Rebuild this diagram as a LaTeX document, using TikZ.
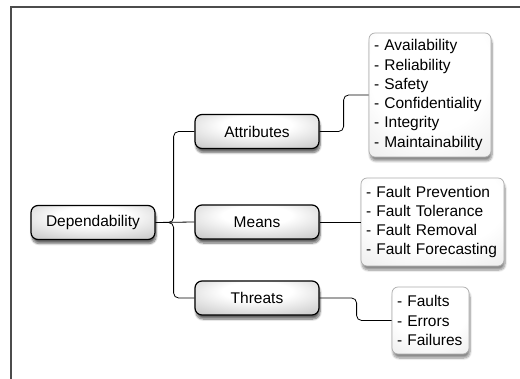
\documentclass[tikz,border=0pt]{standalone}
\usepackage{fontspec}
\setmainfont{Liberation Sans}
\usetikzlibrary{shadows.blur}
\pgfdeclareradialshading{boxshade}{\pgfpoint{0bp}{12bp}}{%
  color(0bp)=(white); color(14bp)=(white); color(40bp)=(gray!45); color(55bp)=(gray!65); color(80bp)=(gray!70)}
\pgfdeclareradialshading{listshade}{\pgfpoint{0bp}{15bp}}{%
  color(0bp)=(white); color(25bp)=(white); color(55bp)=(gray!25); color(80bp)=(gray!30)}
\begin{document}
\begin{tikzpicture}[x=1pt,y=-1pt,
  mainbox/.style={draw=black, line width=1.2pt, rounded corners=7pt,
    minimum width=124pt, minimum height=34pt, inner sep=0pt,
    shading=boxshade,
    font=\fontsize{15.5}{19.3}\selectfont,
    blur shadow={shadow xshift=1pt, shadow yshift=-4pt, shadow blur steps=8, shadow opacity=60}},
  listbox/.style={draw=gray!65, line width=0.7pt, rounded corners=6pt,
    inner xsep=5pt, inner ysep=0pt, align=left,
    shading=listshade,
    font=\fontsize{15.5}{19.3}\selectfont,
    blur shadow={shadow xshift=1pt, shadow yshift=-4pt, shadow blur steps=8, shadow opacity=45}},
  conn/.style={draw=black, line width=0.8pt, rounded corners=5pt}
]
\useasboundingbox (0,0) rectangle (520,379);
\draw[line width=1.2pt, black!70] (11,379) -- (11,7) -- (521,7);

\node[mainbox] (dep) at (93,222.5) {Dependability};
\node[mainbox] (att) at (257,131.5) {Attributes};
\node[mainbox] (mea) at (257,222) {Means};
\node[mainbox] (thr) at (257,298) {Threats};

\node[listbox, text width=112pt, minimum height=124pt] (attl) at (430,95)
  {- Availability\\- Reliability\\- Safety\\- Confidentiality\\- Integrity\\- Maintainability};
\node[listbox, text width=133pt, minimum height=88pt] (meal) at (432.5,222)
  {- Fault Prevention\\- Fault Tolerance\\- Fault Removal\\- Fault Forecasting};
\node[listbox, text width=67pt, minimum height=67pt] (thrl) at (430.5,320.5)
  {- Faults\\- Errors\\- Failures};

\coordinate (j) at ($(dep.east)+(18,0)$);
\draw[conn] (dep.east) -- (mea.west);
\draw[conn] (dep.east) -- (j) |- (att.west);
\draw[conn] (dep.east) -- (j) |- (thr.west);
\draw[conn] (att.east) -- ++(24,0) coordinate (aa) -- (aa |- attl.west) -- (attl.west);
\draw[conn] (mea.east) -- (meal.west);
\draw[conn] (thr.east) -- ++(37,0) coordinate (tt) -- (tt |- thrl.west) -- (thrl.west);
\end{tikzpicture}
\end{document}
